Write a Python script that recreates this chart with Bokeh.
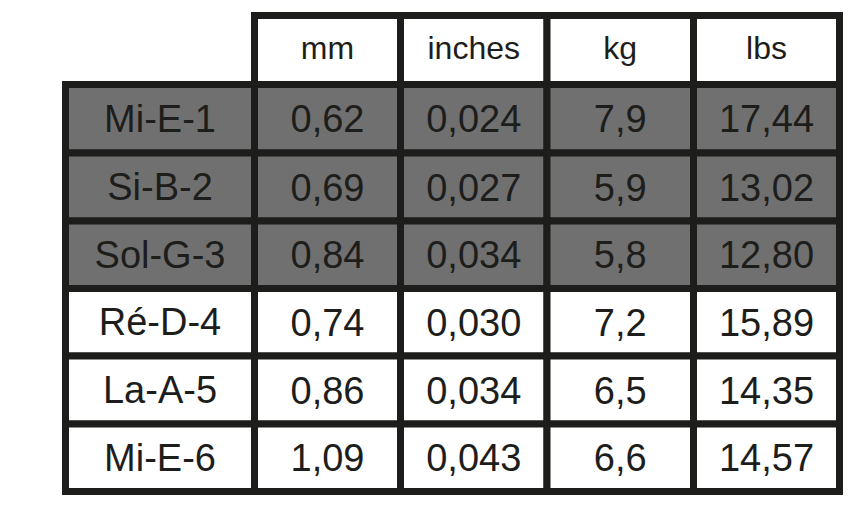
from bokeh.plotting import figure
from bokeh.models import Range1d, ColumnDataSource
from bokeh.embed import file_html
from bokeh.resources import INLINE
from bokeh.core.properties import value

# ---- data ----
header = ["mm", "inches", "kg", "lbs"]
row_labels = ["Mi-E-1", "Si-B-2", "Sol-G-3", "Ré-D-4", "La-A-5", "Mi-E-6"]
mm = ["0,62", "0,69", "0,84", "0,74", "0,86", "1,09"]
inches = ["0,024", "0,027", "0,034", "0,030", "0,034", "0,043"]
kg = ["7,9", "5,9", "5,8", "7,2", "6,5", "6,6"]
lbs = ["17,44", "13,02", "12,80", "15,89", "14,35", "14,57"]
highlighted = [True, True, True, False, False, False]

# ---- layout (pixels) ----
W, H = 846, 513
col_edges = [65, 254, 400, 546.5, 693, 839]
row_edges = [15, 84, 152.5, 220.5, 288, 355.5, 423.5, 491]
LINE = "#1d1d1b"
GRAY = "#707070"

p = figure(width=W, height=H, output_backend="svg", toolbar_location=None,
           x_range=Range1d(0, W), y_range=Range1d(H, 0), min_border=0)
p.axis.visible = False
p.grid.visible = False
p.outline_line_color = None
p.background_fill_color = "white"
p.border_fill_color = "white"

# cells
xs, ys, ws, hs, fills, texts, sizes, offs = [], [], [], [], [], [], [], []
columns = [row_labels, mm, inches, kg, lbs]
# header row (skip corner)
for j, h in enumerate(header):
    x0, x1 = col_edges[j + 1], col_edges[j + 2]
    y0, y1 = row_edges[0], row_edges[1]
    xs.append((x0 + x1) / 2); ys.append((y0 + y1) / 2)
    ws.append(x1 - x0); hs.append(y1 - y0)
    fills.append("white"); texts.append(h); sizes.append("32px"); offs.append(-2)
for i in range(len(row_labels)):
    y0, y1 = row_edges[i + 1], row_edges[i + 2]
    for j, col in enumerate(columns):
        x0, x1 = col_edges[j], col_edges[j + 1]
        xs.append((x0 + x1) / 2); ys.append((y0 + y1) / 2)
        ws.append(x1 - x0); hs.append(y1 - y0)
        fills.append(GRAY if highlighted[i] else "white")
        texts.append(col[i]); sizes.append("38px"); offs.append(0)

src = ColumnDataSource(dict(x=xs, y=ys, w=ws, h=hs, fill=fills, text=texts,
                            size=sizes, off=offs))
p.rect(x="x", y="y", width="w", height="h", source=src, fill_color="fill",
       line_color=LINE, line_width=7, line_join="miter")
p.text(x="x", y="y", text="text", source=src, text_font=value("Liberation Sans"),
       text_font_size="size", text_color=LINE, text_align="center",
       text_baseline="middle", y_offset="off")

open("out.html", "w").write(file_html(p, INLINE))
